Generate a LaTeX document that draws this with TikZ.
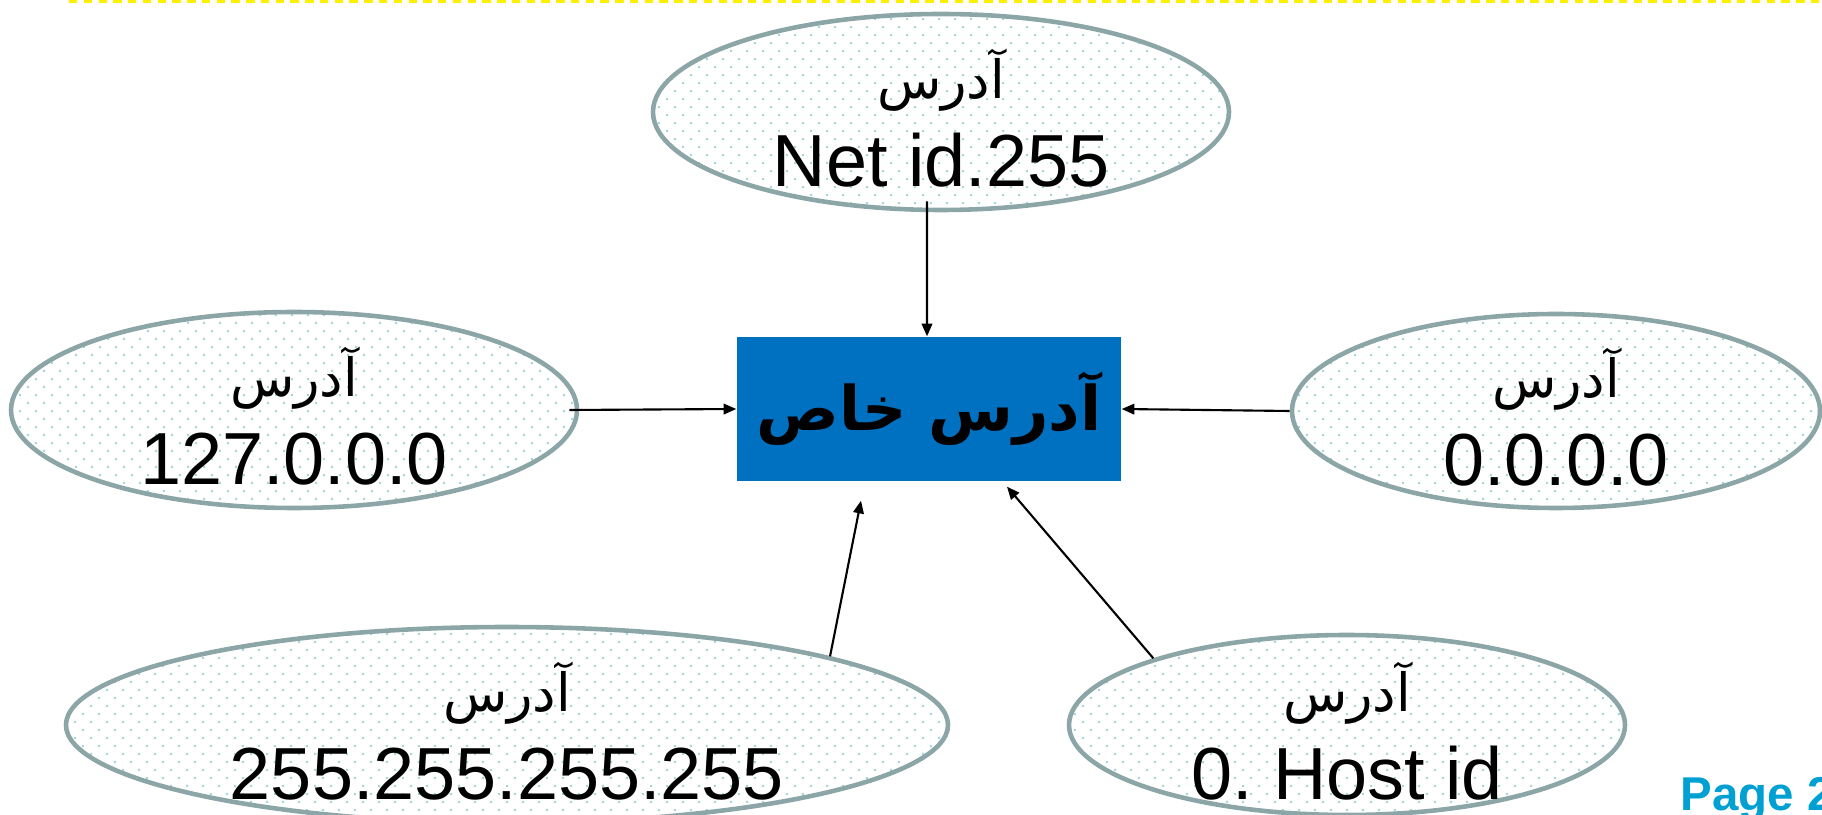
\documentclass[tikz,border=0pt]{standalone}
\usepackage{fontspec}
\setmainfont{Liberation Sans}
\newfontfamily\fa[Script=Arabic]{DejaVu Sans}
\TeXXeTstate=1
\usepackage{tikz}
\usetikzlibrary{shapes.geometric, arrows.meta, positioning, patterns.meta}

\definecolor{ovalline}{RGB}{140,166,168}
\definecolor{ovaldot}{RGB}{165,215,215}
\definecolor{boxblue}{RGB}{0,112,192}
\definecolor{pageblue}{RGB}{0,160,210}
\definecolor{rimyellow}{RGB}{255,240,0}

% staggered dot grid for the ovals
\pgfdeclarepattern{
  name=finedots, type=uncolored,
  bottom left={\pgfpoint{0pt}{0pt}}, top right={\pgfpoint{4.55pt}{4.55pt}},
  tile size={\pgfpoint{4.55pt}{4.55pt}},
  code={
    \pgfpathrectangle{\pgfpoint{0.85pt}{0.85pt}}{\pgfpoint{0.57pt}{0.57pt}}
    \pgfpathrectangle{\pgfpoint{3.13pt}{3.13pt}}{\pgfpoint{0.57pt}{0.57pt}}
    \pgfusepath{fill}}
}

\newcommand{\addrword}{{\fa\fontsize{15}{25}\selectfont\beginR آدرس\endR}}

\begin{document}
\begin{tikzpicture}[
    addr/.style={ellipse, draw=ovalline, line width=1.3pt, pattern=finedots, pattern color=ovaldot, inner sep=0pt},
    addrtxt/.style={align=center, inner sep=0pt, font=\fontsize{21}{25}\selectfont},
    special/.style={rectangle, fill=boxblue, minimum width=3.84cm, minimum height=1.44cm, font=\fontsize{17.5}{21}\selectfont},
    arr/.style={-{Triangle[length=3.6pt, width=3pt]}, line width=0.6pt}
]
    \useasboundingbox (0,0) rectangle (18.22,8.14);
    \draw[rimyellow, line width=0.8pt, dash pattern=on 2.4pt off 1.8pt] (0.69,8.125) -- (18.22,8.125);

    \node[special] (box) at (9.29,4.05) {\fa\bfseries\beginR آدرس خاص\endR};

    \node[addr, minimum width=5.76cm, minimum height=1.96cm] (net) at (9.41,7.02) {};
    \node[addr, minimum width=5.66cm, minimum height=1.96cm] (lo) at (2.94,4.04) {};
    \node[addr, minimum width=5.28cm, minimum height=1.94cm] (zero) at (15.56,4.03) {};
    \node[addr, minimum width=8.82cm, minimum height=1.96cm] (bcast) at (5.07,0.89) {};
    \node[addr, minimum width=5.56cm, minimum height=1.80cm] (host) at (13.47,0.89) {};

    \node[addrtxt] (nettxt) at ([yshift=-0.06cm]net) {\addrword\\Net id.255};
    \node[addrtxt] (lotxt) at ([yshift=-0.06cm]lo) {\addrword\\127.0.0.0};
    \node[addrtxt] (zerotxt) at ([yshift=-0.06cm]zero) {\addrword\\0.0.0.0};
    \node[addrtxt] (bcasttxt) at ([yshift=-0.06cm]bcast) {\addrword\\255.255.255.255};
    \node[addrtxt] (hosttxt) at ([yshift=-0.06cm]host) {\addrword\\0.\ Host id};

    \node[anchor=base west, inner sep=0pt, text=pageblue, font=\bfseries\fontsize{13.5}{16}\selectfont] (pg) at (16.80,0.04) {Page 2};

    \draw[arr] ([xshift=-0.14cm, yshift=0.11cm]net.south) -- ([xshift=-0.02cm]box.north);
    \draw[arr] ([xshift=-0.1cm]lo.east) -- (box.west);
    \draw[arr] (zero.west) -- (box.east);
    \draw[arr] (bcast.12) -- ([shift={(-0.68,-0.19)}]box.south);
    \draw[arr] (host.161.5) -- ([shift={(0.78,-0.05)}]box.south);
\end{tikzpicture}
\end{document}
